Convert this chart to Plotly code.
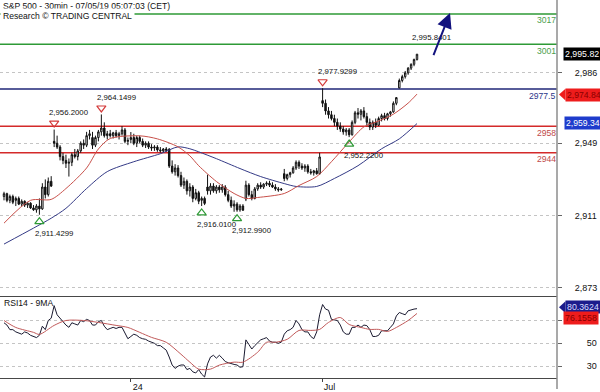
import plotly.graph_objects as go

# ---------------- data ----------------
open_ = [2921, 2922.5, 2919, 2921, 2919, 2920, 2917, 2918.5, 2916.5, 2917.5,
         2915, 2914, 2916, 2914.5, 2926, 2922, 2929, 2950, 2949, 2947,
         2942, 2940, 2938.5, 2939, 2943, 2942, 2945, 2949, 2948, 2953,
         2952, 2948, 2952, 2955, 2957, 2953, 2954, 2953, 2954.5, 2953,
         2954, 2956, 2950, 2951, 2952, 2949, 2952, 2950, 2948, 2949,
         2947, 2946.5, 2947, 2945.5, 2945, 2946, 2945.8, 2937, 2934, 2936,
         2932, 2927, 2929, 2924, 2926, 2920, 2923, 2919, 2920, 2926,
         2924, 2926.5, 2924, 2926, 2924.5, 2926, 2922, 2919, 2916, 2917,
         2914, 2916, 2919.7, 2927, 2922, 2920, 2925, 2927, 2926, 2927.5,
         2928, 2927, 2926, 2925, 2924.5, 2933, 2930.5, 2932.5, 2933.5, 2936,
         2939, 2937, 2936, 2937, 2934, 2933.5, 2934.5, 2933, 2971.4, 2970,
         2966, 2964, 2962, 2960, 2958, 2956.5, 2955, 2956, 2953.5, 2960,
         2965, 2964.2, 2966, 2963, 2960, 2957.5, 2960, 2958.5, 2962, 2963.5,
         2962, 2964.5, 2965.5, 2970, 2978.1, 2982, 2984, 2986, 2988.5, 2990.5,
         2993]
high = [2923.5, 2923, 2922, 2922, 2921, 2921, 2919.5, 2919, 2918, 2918,
        2916.5, 2917, 2920, 2928, 2930, 2931, 2931.7, 2956.2, 2953, 2948,
        2944, 2943, 2941, 2944, 2946, 2946, 2950, 2951, 2955, 2956,
        2955, 2953, 2956, 2964.15, 2960, 2955.5, 2956, 2955, 2956, 2955,
        2958, 2957, 2952, 2954.9, 2954, 2953, 2953, 2951.5, 2950, 2950,
        2948.5, 2948, 2948, 2947, 2946.5, 2947, 2946.5, 2940, 2938, 2937.5,
        2934, 2931, 2930, 2928, 2927, 2925, 2924, 2921, 2921, 2932.5,
        2928, 2928, 2927, 2927, 2927.5, 2927, 2924, 2921, 2919, 2918,
        2917, 2917, 2929.3, 2928, 2924, 2926, 2928, 2928.5, 2928, 2929,
        2929.3, 2928.5, 2927.5, 2926, 2925.5, 2935.5, 2933, 2934, 2937, 2940,
        2940, 2938.5, 2938, 2938, 2935.5, 2935, 2936, 2943.98, 2977.93, 2972,
        2968, 2966, 2964, 2962, 2960, 2958, 2957, 2957, 2961, 2966,
        2967.5, 2967, 2968, 2965, 2962, 2961, 2962, 2963, 2964.5, 2965,
        2965, 2966, 2971, 2973.2, 2983, 2985, 2987, 2989, 2991, 2993.5,
        2995.84]
low = [2919, 2918, 2917.5, 2917, 2916, 2916.5, 2916, 2915.5, 2915, 2914.5,
       2913.5, 2912.5, 2911.43, 2914, 2920, 2921, 2926, 2947, 2946, 2940,
       2938, 2936, 2931.5, 2937, 2941, 2940, 2944, 2946, 2947, 2951,
       2946, 2947, 2950, 2953, 2952, 2951, 2952, 2951.5, 2952, 2951,
       2953, 2949, 2948, 2949, 2948, 2947, 2949, 2947, 2946.5, 2946,
       2945, 2945, 2944.5, 2944.05, 2944, 2944.5, 2936, 2933, 2932, 2931,
       2926, 2925, 2922, 2921, 2918, 2919, 2917, 2916.01, 2916.5, 2922,
       2922, 2923, 2922.5, 2923, 2923, 2921, 2918, 2915, 2913, 2912.99,
       2913, 2913.5, 2918.6, 2921, 2919, 2919.5, 2924, 2925, 2925, 2926.5,
       2926, 2925.5, 2924, 2923.5, 2924, 2929.05, 2929.5, 2931, 2933, 2935,
       2935.5, 2935, 2934, 2933, 2932.5, 2932, 2932.5, 2932.5, 2968, 2964,
       2962, 2961, 2958, 2956, 2955, 2953.5, 2953, 2952.22, 2953, 2959,
       2962, 2961, 2962, 2958, 2955.92, 2956, 2957, 2958, 2960.5, 2961,
       2961, 2963, 2965, 2969, 2977.96, 2981, 2983, 2985, 2987.5, 2989.5,
       2992.5]
close = [2922.5, 2919, 2921, 2918, 2920, 2917, 2918.5, 2916.5, 2917.5, 2915,
         2914, 2916, 2914.5, 2926, 2922, 2929, 2926.5, 2949, 2947, 2942,
         2940, 2938.5, 2939, 2943, 2942, 2945, 2949, 2948, 2953, 2954,
         2948, 2952, 2955, 2957, 2953, 2954, 2953, 2954.5, 2953, 2954,
         2956, 2950, 2950.5, 2952, 2949, 2952, 2950, 2948, 2949, 2947,
         2946.5, 2947, 2945.5, 2945, 2946, 2945.3, 2937, 2934, 2936, 2932,
         2927, 2929, 2924, 2926, 2920, 2923, 2918.5, 2920, 2917.4, 2924,
         2926.5, 2924, 2926, 2924.5, 2926, 2922, 2919, 2916, 2917, 2914,
         2916, 2913.8, 2927, 2922, 2920, 2925, 2927, 2926, 2927.5, 2928,
         2927, 2926, 2925, 2924.5, 2924.9, 2930.5, 2932.5, 2933.5, 2936, 2939,
         2937, 2936, 2937, 2934, 2933.5, 2934.5, 2933, 2941.8, 2970, 2966,
         2964, 2962, 2960, 2958, 2956.5, 2955, 2956, 2953.5, 2960, 2965,
         2964.3, 2966, 2963, 2960, 2957.5, 2960, 2958.5, 2962, 2963.5, 2962,
         2964.5, 2965.5, 2970, 2973, 2982, 2984, 2986, 2988.5, 2990.5, 2993,
         2995.82]
bar_idx = list(range(len(close)))

# moving averages on price (read at sample bars)
ma_fast_idx = [0, 9, 16, 21, 28, 32, 36, 46, 52, 59, 63, 66, 72, 78, 82, 86,
               95, 100, 106, 111, 117, 122, 127, 132, 137, 140]
ma_fast_val = [2907.0, 2919.0, 2919.5, 2925.2, 2936.0, 2946.0, 2951.5, 2952.9,
               2951.3, 2947.1, 2942.4, 2937.2, 2928.9, 2922.6, 2920.0, 2920.5,
               2922.6, 2926.8, 2931.5, 2939.3, 2949.7, 2957.6, 2960.7, 2964.3,
               2970.1, 2974.84]
ma_slow_idx = [0, 10, 16, 21, 28, 35, 44, 53, 59, 63, 66, 72, 80, 87, 95, 99,
               106, 112, 120, 128, 134, 140]
ma_slow_val = [2896.0, 2904.4, 2909.6, 2914.8, 2925.2, 2934.1, 2939.3, 2943.5,
               2947.1, 2946.1, 2944.5, 2940.9, 2935.7, 2931.5, 2927.8, 2926.3,
               2926.3, 2930.5, 2937.2, 2946.1, 2951.3, 2959.34]

# RSI 14 (one value per bar) and its 9MA (sampled)
rsi = [68, 66, 62, 62, 60, 59, 58, 60, 59, 57,
       56, 55, 57, 65, 62, 70, 72, 83, 75, 72,
       70, 66, 64, 68, 67, 66, 70, 69, 71, 70,
       66, 66, 69, 70, 65, 62, 63, 64, 63, 64,
       64, 59, 54, 56, 58, 57, 55, 54, 53.5, 52,
       51, 50, 48, 48, 46, 44, 38, 31, 28, 30,
       31, 31, 27, 28, 25, 24, 27, 23, 20.5, 32,
       38, 39.5, 37, 39.5, 37, 34, 33, 32, 31.5, 31,
       29, 29.5, 53, 49, 45, 48, 51, 53, 54, 55,
       52, 51, 51, 50, 51, 58, 61, 62, 64, 70,
       67, 62, 60, 60, 56, 54, 60, 75, 84, 80,
       79, 71, 70.5, 70, 66, 60, 58, 58, 64, 64,
       66, 64, 66, 65.5, 62, 56, 56, 57, 61, 61,
       61, 64, 67, 74, 77, 76, 75, 78.5, 79.5, 80,
       80.3624]
rsi_ma_idx = [0, 4, 10, 12, 17, 21, 27, 32, 38, 42, 46, 50, 55, 60, 63, 66, 70,
              73, 78, 81, 86, 89, 92, 96, 100, 104, 107, 110, 114, 117, 121,
              124, 127, 130, 133, 137, 140]
rsi_ma_val = [70.0, 63.9, 59.6, 57.8, 65.7, 70.0, 70.0, 68.3, 65.7, 63.9, 59.6,
              55.2, 50.9, 40.4, 33.5, 27.4, 27.4, 30.9, 33.5, 33.5, 42.2, 50.9,
              50.9, 53.5, 61.3, 61.3, 62.2, 68.3, 72.6, 66.5, 63.9, 62.2, 62.2,
              60.4, 63.9, 70.0, 76.1558]

# horizontal levels
levels = [3017, 3001, 2977.5, 2958, 2944]
level_labels = ["3017", "3001", "2977.5", "2958", "2944"]
level_colors = ["#2e9a36", "#2e9a36", "#1f2677", "#d42a2a", "#d42a2a"]
level_text_colors = ["#4c9e4c", "#4c9e4c", "#2b358a", "#c04a4a", "#c04a4a"]

# swing highs / lows
ext_idx = [12, 17, 33, 67, 79, 108, 117, 140]
ext_val = [2911.4299, 2956.2000, 2964.1499, 2916.0100, 2912.9900, 2977.9299,
           2952.2200, 2995.8401]
ext_kind = ["low", "high", "high", "low", "low", "high", "low", "high"]
ext_marker = [True, True, True, True, True, True, True, False]

# forecast arrow (bar index, price)
arrow_from = (145.4, 2994.6)
arrow_to = (151.2, 3017.5)

price_ticks = [2873, 2911, 2949, 2986]
price_tick_text = ["2,873", "2,911", "2,949", "2,986"]
rsi_ticks = [30, 50, 70]
rsi_tick_text = ["30", "50", ""]
date_ticks = [43, 108]
date_tick_text = ["24", "Jul"]

title_line1 = "S&P 500 - 30min - 07/05/19 05:07:03 (CET)"
title_line2 = "Research © TRADING CENTRAL"
rsi_title = "RSI14 - 9MA"

# ---------------- layout constants ----------------
W, H = 600, 392
ML, MR, MT, MB = 0, 43, 0, 11
PW, PH = W - ML - MR, H - MT - MB
MAIN_BOTTOM_PX = 298
RSI_TOP_PX = 299
y_range = [2868.9, 3024.3]
rsi_range = [19.6, 90.9]
x_range = [-1.356, 187.46]
main_dom = [(PH - MAIN_BOTTOM_PX) / PH, 1]
rsi_dom = [0, (PH - RSI_TOP_PX) / PH]
PPU = MAIN_BOTTOM_PX / (y_range[1] - y_range[0])   # px per price unit
RPPU = (PH - RSI_TOP_PX) / (rsi_range[1] - rsi_range[0])

FONT = "Liberation Sans, Arial, sans-serif"


def px_x(px):
    return px / PW


def px_y(py):
    return (PH - py) / PH


def price_py(v):
    return (y_range[1] - v) * PPU


def rsi_py(v):
    return RSI_TOP_PX + (rsi_range[1] - v) * RPPU


fig = go.Figure()

fig.add_trace(go.Candlestick(
    x=bar_idx, open=open_, high=high, low=low, close=close,
    increasing=dict(line=dict(color="#111111", width=1), fillcolor="#ffffff"),
    decreasing=dict(line=dict(color="#111111", width=1), fillcolor="#111111"),
    whiskerwidth=0, hoverinfo="skip", xaxis="x", yaxis="y", showlegend=False))

fig.add_trace(go.Scatter(x=ma_slow_idx, y=ma_slow_val, mode="lines",
                         line=dict(color="#343a86", width=1, shape="spline", smoothing=0.8),
                         hoverinfo="skip", xaxis="x", yaxis="y", showlegend=False))
fig.add_trace(go.Scatter(x=ma_fast_idx, y=ma_fast_val, mode="lines",
                         line=dict(color="#c8504a", width=1, shape="spline", smoothing=0.8),
                         hoverinfo="skip", xaxis="x", yaxis="y", showlegend=False))

# triangles at swing points
hx, hy, lx, ly = [], [], [], []
for i, v, k, m in zip(ext_idx, ext_val, ext_kind, ext_marker):
    if not m:
        continue
    if k == "high":
        hx.append(i); hy.append(v + 6.5 / PPU)
    else:
        lx.append(i); ly.append(v - 7 / PPU)
fig.add_trace(go.Scatter(x=hx, y=hy, mode="markers",
                         marker=dict(symbol="triangle-down-open", size=8,
                                     color="#d43a3a", line=dict(width=1.2, color="#d43a3a")),
                         hoverinfo="skip", xaxis="x", yaxis="y", showlegend=False))
fig.add_trace(go.Scatter(x=lx, y=ly, mode="markers",
                         marker=dict(symbol="triangle-up-open", size=8,
                                     color="#2e9a36", line=dict(width=1.2, color="#2e9a36")),
                         hoverinfo="skip", xaxis="x", yaxis="y", showlegend=False))

# RSI panel
fig.add_trace(go.Scatter(x=bar_idx, y=rsi, mode="lines",
                         line=dict(color="#1a1a30", width=1),
                         hoverinfo="skip", xaxis="x2", yaxis="y2", showlegend=False))
fig.add_trace(go.Scatter(x=rsi_ma_idx, y=rsi_ma_val, mode="lines",
                         line=dict(color="#c05a5a", width=1, shape="spline", smoothing=0.8),
                         hoverinfo="skip", xaxis="x2", yaxis="y2", showlegend=False))

shapes = []
for lv, col in zip(levels, level_colors):
    shapes.append(dict(type="line", xref="paper", yref="y", x0=0, x1=1, y0=lv, y1=lv,
                       line=dict(color=col, width=1.5), layer="below"))
# right axis line
shapes.append(dict(type="line", xref="paper", yref="paper", x0=1, x1=1,
                   y0=-MB / PH, y1=1, line=dict(color="#8c8c8c", width=1.5)))

annotations = []
annotations.append(dict(text=title_line1, xref="paper", yref="paper",
                        x=px_x(2), y=px_y(6), xanchor="left", yanchor="middle",
                        showarrow=False, font=dict(family=FONT, size=8.6, color="#111111"),
                        borderpad=0))
annotations.append(dict(text=title_line2, xref="paper", yref="paper",
                        x=px_x(0), y=px_y(16), xanchor="left", yanchor="middle",
                        showarrow=False, font=dict(family=FONT, size=8.6, color="#111111"),
                        bgcolor="#ffffff", borderpad=2))
annotations.append(dict(text=rsi_title, xref="paper", yref="paper",
                        x=px_x(2), y=px_y(305), xanchor="left", yanchor="middle",
                        showarrow=False, font=dict(family=FONT, size=8.6, color="#111111")))

for lv, lab, tc in zip(levels, level_labels, level_text_colors):
    annotations.append(dict(text=lab, xref="paper", yref="y", x=1, y=lv,
                            xanchor="right", yanchor="top", yshift=-0.5,
                            showarrow=False, borderpad=0,
                            font=dict(family=FONT, size=8.6, color=tc)))

for i, v, k in zip(ext_idx, ext_val, ext_kind):
    annotations.append(dict(text=f"{v:,.4f}", xref="x", yref="y", x=i, y=v,
                            xshift=15, yshift=17 if k == "high" else -18.5,
                            xanchor="center", yanchor="middle", showarrow=False,
                            font=dict(family=FONT, size=7.8, color="#111111")))

annotations.append(dict(text="", x=arrow_to[0], y=arrow_to[1], xref="x", yref="y",
                        ax=arrow_from[0], ay=arrow_from[1], axref="x", ayref="y",
                        showarrow=True, arrowhead=2, arrowsize=1.5, arrowwidth=2,
                        arrowcolor="#12127e"))

# right-hand value tags: text, value, yref, bg, font colour, left px, yshift, font size
tags = [
    (f"{close[-1]:,.2f}", close[-1], "y", "#000000", "#ffffff", 563, 0, 8.8),
    (f"{ma_fast_val[-1]:,.2f}", ma_fast_val[-1], "y", "#ee1c1c", "#8a0000", 565, -0.5, 8.6),
    (f"{ma_slow_val[-1]:,.2f}", ma_slow_val[-1], "y", "#1e3ccc", "#ffffff", 564, 0.5, 8.6),
    (f"{rsi[-1]:.4f}", rsi[-1], "y2", "#1c1c8c", "#d8dcff", 565, 1.5, 8.8),
    (f"{rsi_ma_val[-1]:.4f}", rsi_ma_val[-1], "y2", "#ee1c1c", "#8a0000", 563, -4.5, 8.8),
]
for txt, v, yr, bg, fc, left, ysh, fs in tags:
    annotations.append(dict(text=txt, xref="paper", yref=yr, x=px_x(left), y=v,
                            xanchor="left", yanchor="middle", yshift=ysh,
                            showarrow=False, bgcolor=bg, borderpad=1,
                            font=dict(family=FONT, size=fs, color=fc)))

# arrow tips on two of the tags
for v, conv, bg, left, ysh in [(ma_fast_val[-1], price_py, "#ee1c1c", 565, -0.5),
                               (rsi[-1], rsi_py, "#1c1c8c", 565, 1.5)]:
    cy = conv(v) - ysh
    x0, y0 = px_x(left - 6), px_y(cy)
    x1, y1 = px_x(left + 0.5), px_y(cy - 6)
    x2, y2 = px_x(left + 0.5), px_y(cy + 6)
    shapes.append(dict(type="path", xref="paper", yref="paper",
                       path=f"M {x0} {y0} L {x1} {y1} L {x2} {y2} Z",
                       fillcolor=bg, line=dict(width=0)))

grid = dict(showgrid=True, gridcolor="#c4c4c4", griddash="dot", gridwidth=1)

fig.update_layout(
    width=W, height=H,
    margin=dict(l=ML, r=MR, t=MT, b=MB),
    paper_bgcolor="#ffffff", plot_bgcolor="#ffffff",
    showlegend=False, hovermode=False,
    font=dict(family=FONT, size=9, color="#111111"),
    xaxis=dict(domain=[0, 1], range=x_range, anchor="y", showticklabels=False,
               ticks="", showgrid=False, zeroline=False, showline=True,
               linecolor="#474747", linewidth=1, rangeslider=dict(visible=False),
               fixedrange=True),
    xaxis2=dict(domain=[0, 1], range=x_range, anchor="y2", matches="x",
                tickvals=date_ticks, ticktext=date_tick_text, ticks="outside",
                ticklen=3, tickcolor="#444444", showgrid=False, zeroline=False,
                showline=True, linecolor="#474747", linewidth=1,
                tickfont=dict(family=FONT, size=9, color="#111111"),
                ticklabelshift=7, ticklabelstandoff=-3),
    yaxis=dict(domain=main_dom, range=y_range, side="right", anchor="x",
               tickvals=price_ticks, ticktext=price_tick_text, ticks="outside",
               ticklen=4, tickcolor="#666666", zeroline=False, showline=False,
               tickfont=dict(family=FONT, size=9, color="#111111"),
               ticklabelstandoff=11, **grid),
    yaxis2=dict(domain=rsi_dom, range=rsi_range, side="right", anchor="x2",
                tickvals=rsi_ticks, ticktext=rsi_tick_text, ticks="outside",
                ticklen=4, tickcolor="#666666", zeroline=False, showline=False,
                tickfont=dict(family=FONT, size=9, color="#111111"),
                ticklabelstandoff=23, **grid),
    shapes=shapes,
    annotations=annotations,
)

fig.write_html("out.html", config=dict(displayModeBar=False, staticPlot=True))
